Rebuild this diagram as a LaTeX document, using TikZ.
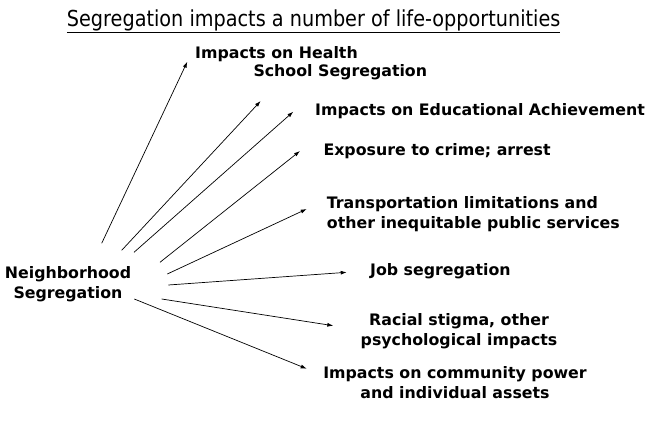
\documentclass[tikz,border=0pt]{standalone}
\usepackage{fontspec}
\setmainfont{DejaVu Sans}
\newfontfamily\titlefont[FakeStretch=0.875]{DejaVu Sans}
\usepackage{tikz}
\usetikzlibrary{arrows.meta}

\tikzset{
  item/.style={font=\fontsize{15.8}{20}\selectfont\bfseries,inner sep=0pt},
  link/.style={-{Latex[length=6pt,width=4pt]},line width=0.7pt}
}

\begin{document}
\begin{tikzpicture}[x=1pt,y=-1pt]
\useasboundingbox (0,0) rectangle (659,429);
% title
\node[font=\titlefont\fontsize{22}{26}\selectfont,inner sep=0pt,anchor=base west] (title) at (66.7,26) {\underline{Segregation impacts a number of life-opportunities}};
% source (base = last line)
\node[item,align=center,anchor=base] (hood) at (68,298) {Neighborhood\\Segregation};
% effects
\node[item,anchor=base west] (health) at (195,58) {Impacts on Health};
\node[item,anchor=base west] (school) at (253.3,76.7) {School Segregation};
\node[item,anchor=base west] (educ) at (315,115) {Impacts on Educational Achievement};
\node[item,anchor=base west] (crime) at (323.3,155) {Exposure to crime; arrest};
\node[item,align=left,anchor=base west] (trans) at (326.7,228.3) {Transportation limitations and\\other inequitable public services};
\node[item,anchor=base west] (job) at (370,275) {Job segregation};
\node[item,align=center,anchor=base] (stigma) at (459,345) {Racial stigma, other\\psychological impacts};
\node[item,align=center,anchor=base] (power) at (455,398.3) {Impacts on community power\\and individual assets};
% arrow ends
\coordinate (s1) at (101.7,243.3); \coordinate (e1) at (187.3,61.7);
\coordinate (s2) at (121.7,250.3); \coordinate (e2) at (260.7,101);
\coordinate (s3) at (134,252.3);   \coordinate (e3) at (293.3,111.7);
\coordinate (s4) at (160,262.3);   \coordinate (e4) at (300,151);
\coordinate (s5) at (167.3,274);   \coordinate (e5) at (306.7,209);
\coordinate (s6) at (168.3,285);   \coordinate (e6) at (346.7,272.3);
\coordinate (s7) at (161.7,299);   \coordinate (e7) at (333.3,325.7);
\coordinate (s8) at (134.3,299);   \coordinate (e8) at (306.7,368.7);
\draw[link](s1)--(e1);
\draw[link](s2)--(e2);
\draw[link](s3)--(e3);
\draw[link](s4)--(e4);
\draw[link](s5)--(e5);
\draw[link](s6)--(e6);
\draw[link](s7)--(e7);
\draw[link](s8)--(e8);
\end{tikzpicture}
\end{document}
